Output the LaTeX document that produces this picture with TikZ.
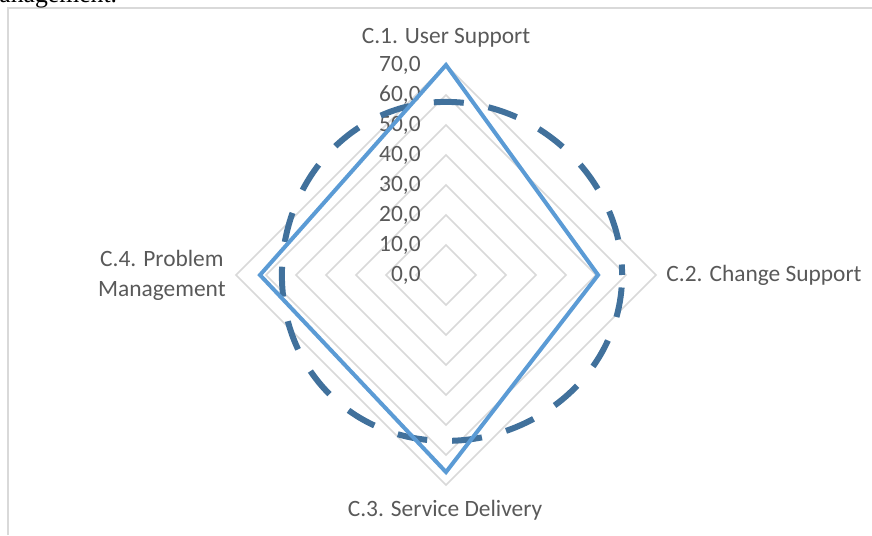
\documentclass[tikz,border=0pt]{standalone}
\usepackage{fontspec}
\usepackage{xcolor}
\usepackage{tikz}
\setmainfont{Carlito}
\newfontfamily\capfont{Liberation Serif}
\definecolor{gridgray}{HTML}{D9D9D9}
\definecolor{labelgray}{HTML}{595959}
\definecolor{lineblue}{HTML}{5B9BD5}
\definecolor{darkblue}{HTML}{41719C}

\begin{document}
\begin{tikzpicture}
    \def\r{1.5pt}
    \def\lx{-12.5pt}

    \useasboundingbox (-223pt,-130pt) rectangle (213pt,137.5pt);

    \tikzstyle{ring}=[draw=gridgray,line width=0.75pt]
    \tikzstyle{tick}=[text=labelgray,anchor=east,inner sep=0pt,font=\fontsize{11.7}{14}\selectfont]
    \tikzstyle{axis}=[text=labelgray,inner sep=0pt,align=center,font=\fontsize{11.7}{15}\selectfont]
    \tikzstyle{actual}=[draw=lineblue,line width=2pt,line join=miter]
    \tikzstyle{target}=[draw=darkblue,line width=3pt,dash pattern=on 15pt off 12.5pt,dash phase=21.25pt]

    % frame and caption fragment
    \draw [gridgray,line width=0.75pt] (-219pt,-130pt) -- (-219pt,133.5pt) -- (213pt,133.5pt);
    \node[anchor=base west,inner sep=0pt,font=\capfont\fontsize{12.85}{14}\selectfont] (cap) at (-223.5pt,136pt) {anagement.};

    % grid
    \draw [ring] (0,10*\r) -- (10*\r,0) -- (0,-10*\r) -- (-10*\r,0) -- cycle;
    \draw [ring] (0,20*\r) -- (20*\r,0) -- (0,-20*\r) -- (-20*\r,0) -- cycle;
    \draw [ring] (0,30*\r) -- (30*\r,0) -- (0,-30*\r) -- (-30*\r,0) -- cycle;
    \draw [ring] (0,40*\r) -- (40*\r,0) -- (0,-40*\r) -- (-40*\r,0) -- cycle;
    \draw [ring] (0,50*\r) -- (50*\r,0) -- (0,-50*\r) -- (-50*\r,0) -- cycle;
    \draw [ring] (0,60*\r) -- (60*\r,0) -- (0,-60*\r) -- (-60*\r,0) -- cycle;
    \draw [ring] (0,70*\r) -- (70*\r,0) -- (0,-70*\r) -- (-70*\r,0) -- cycle;

    % scale
    \node[tick] (t0) at (\lx,0*\r) {0,0};
    \node[tick] (t10) at (\lx,10*\r) {10,0};
    \node[tick] (t20) at (\lx,20*\r) {20,0};
    \node[tick] (t30) at (\lx,30*\r) {30,0};
    \node[tick] (t40) at (\lx,40*\r) {40,0};
    \node[tick] (t50) at (\lx,50*\r) {50,0};
    \node[tick] (t60) at (\lx,60*\r) {60,0};
    \node[tick] (t70) at (\lx,70*\r) {70,0};

    % categories
    \node[axis] (user) at (0,118.5pt) {C.1. User Support};
    \node[axis,anchor=west] (change) at (110pt,0) {C.2. Change Support};
    \node[axis] (service) at (-0.5pt,-117.5pt) {C.3. Service Delivery};
    \node[axis,anchor=east] (problem) at (-110pt,0) {C.4. Problem\\Management};

    % series
    \coordinate (a1) at (0,70*\r);
    \coordinate (a2) at (50.7*\r,0);
    \coordinate (a3) at (0,-65.7*\r);
    \coordinate (a4) at (-62*\r,0);

    \coordinate (b1) at (0,57.7*\r);
    \coordinate (b2) at (58.7*\r,0);
    \coordinate (b3) at (0,-55.3*\r);
    \coordinate (b4) at (-54.7*\r,0);

    \draw [target] plot[smooth cycle,tension=1] coordinates {(b1) (b2) (b3) (b4)};
    \draw [actual] (a1) -- (a2) -- (a3) -- (a4) -- cycle;

\end{tikzpicture}
\end{document}
